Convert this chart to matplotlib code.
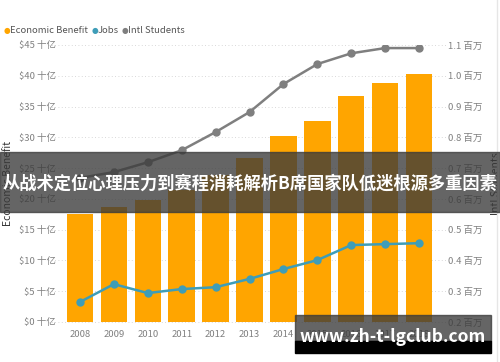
import numpy as np
import matplotlib.pyplot as plt
from matplotlib.patches import Rectangle

plt.rcParams['font.family'] = ['Noto Sans CJK SC', 'DejaVu Sans']

years = ["2008", "2009", "2010", "2011", "2012", "2013", "2014", "2015", "2016", "2017", "2018"]
econ = [17.5, 18.7, 19.8, 21.4, 23.9, 26.6, 30.2, 32.6, 36.7, 38.8, 40.3]
jobs = [0.265, 0.323, 0.294, 0.307, 0.313, 0.340, 0.372, 0.401, 0.450, 0.453, 0.456]
intl = [0.668, 0.687, 0.719, 0.758, 0.817, 0.882, 0.973, 1.038, 1.073, 1.090, 1.090]
left_ticks = [0, 5, 10, 15, 20, 25, 30, 35, 40, 45]
right_ticks = [0.2, 0.3, 0.4, 0.5, 0.6, 0.7, 0.8, 0.9, 1.0, 1.1]

orange = "#FFA500"
teal = "#3E9DB8"
grey = "#7F7F7F"
tick_col = "#808080"

fig = plt.figure(figsize=(5, 3.62), dpi=100)
ax = fig.add_axes([0.126, 0.1105, 0.746, 0.7652])
x = np.arange(len(years))

ax.bar(x, econ, width=0.78, color=orange, zorder=2)
ax.set_xlim(-0.5, len(years) - 0.5)
ax.set_ylim(0, 45)
ax.set_yticks(left_ticks)
ax.set_yticklabels(["$%d 十亿" % v for v in left_ticks])
ax.set_xticks(x)
ax.set_xticklabels(years)
ax.tick_params(length=0, labelsize=6.8, colors=tick_col, pad=5)
ax.tick_params(axis='x', pad=6)
for v in left_ticks:
    ax.axhline(v, xmin=-0.04, xmax=1.03, color="#cccccc", lw=0.6, ls=(0, (1, 3)), zorder=0, clip_on=False)
for s in ax.spines.values():
    s.set_visible(False)
ax.set_ylabel("Economic Benefit", fontsize=7.5, color="#333333", labelpad=4)

ax2 = ax.twinx()
ax2.set_ylim(0.2, 1.1)
ax2.set_yticks(right_ticks)
ax2.set_yticklabels(["%.1f 百万" % v for v in right_ticks])
ax2.tick_params(length=0, labelsize=6.8, colors=tick_col, pad=9)
for s in ax2.spines.values():
    s.set_visible(False)
ax2.plot(x, jobs, color=teal, lw=1.8, marker="o", ms=5, zorder=3)
ax2.plot(x, intl, color=grey, lw=1.8, marker="o", ms=5, zorder=3)
ax2.set_ylabel("Intl Students", fontsize=7.5, color="#333333", labelpad=6)

# legend
items = [("Economic Benefit", orange), ("Jobs", teal), ("Intl Students", grey)]
lx = 0.008
for name, c in items:
    fig.text(lx, 0.917, "●", color=c, fontsize=5.5, va="center", family=['DejaVu Sans'])
    t = fig.text(lx + 0.013, 0.917, name, color="#555555", fontsize=6.8, va="center")
    fig.canvas.draw()
    bb = t.get_window_extent()
    lx = bb.x1 / 500 + 0.006

# right frame line
fig.add_artist(plt.Line2D([0.994, 0.994], [0.0, 1.0], color="#e6e6e6", lw=1))

# overlay banner
fig.add_artist(Rectangle((0, 1 - 212 / 362), 1, 60 / 362, transform=fig.transFigure,
                         color="#3a3a3a", alpha=0.78, zorder=10))
fig.text(0.5, 1 - 184 / 362, "从战术定位心理压力到赛程消耗解析B席国家队低迷根源多重因素",
         color="white", fontsize=12.4, fontweight="bold", ha="center", va="center", zorder=11)

# bottom-right box
fig.add_artist(Rectangle((295 / 500, 1 - 341 / 362), 196 / 500, 26 / 362, transform=fig.transFigure,
                         color="#3a3a3a", alpha=0.78, zorder=10))
fig.add_artist(Rectangle((295 / 500, 1 - 353 / 362), 196 / 500, 12 / 362, transform=fig.transFigure,
                         color="black", zorder=10))
fig.text(393 / 500, 1 - 337 / 362, "www.zh-t-lgclub.com", color="white", fontsize=12.5,
         fontweight="bold", ha="center", va="center", zorder=11)

fig.savefig("out.png", dpi=100)
